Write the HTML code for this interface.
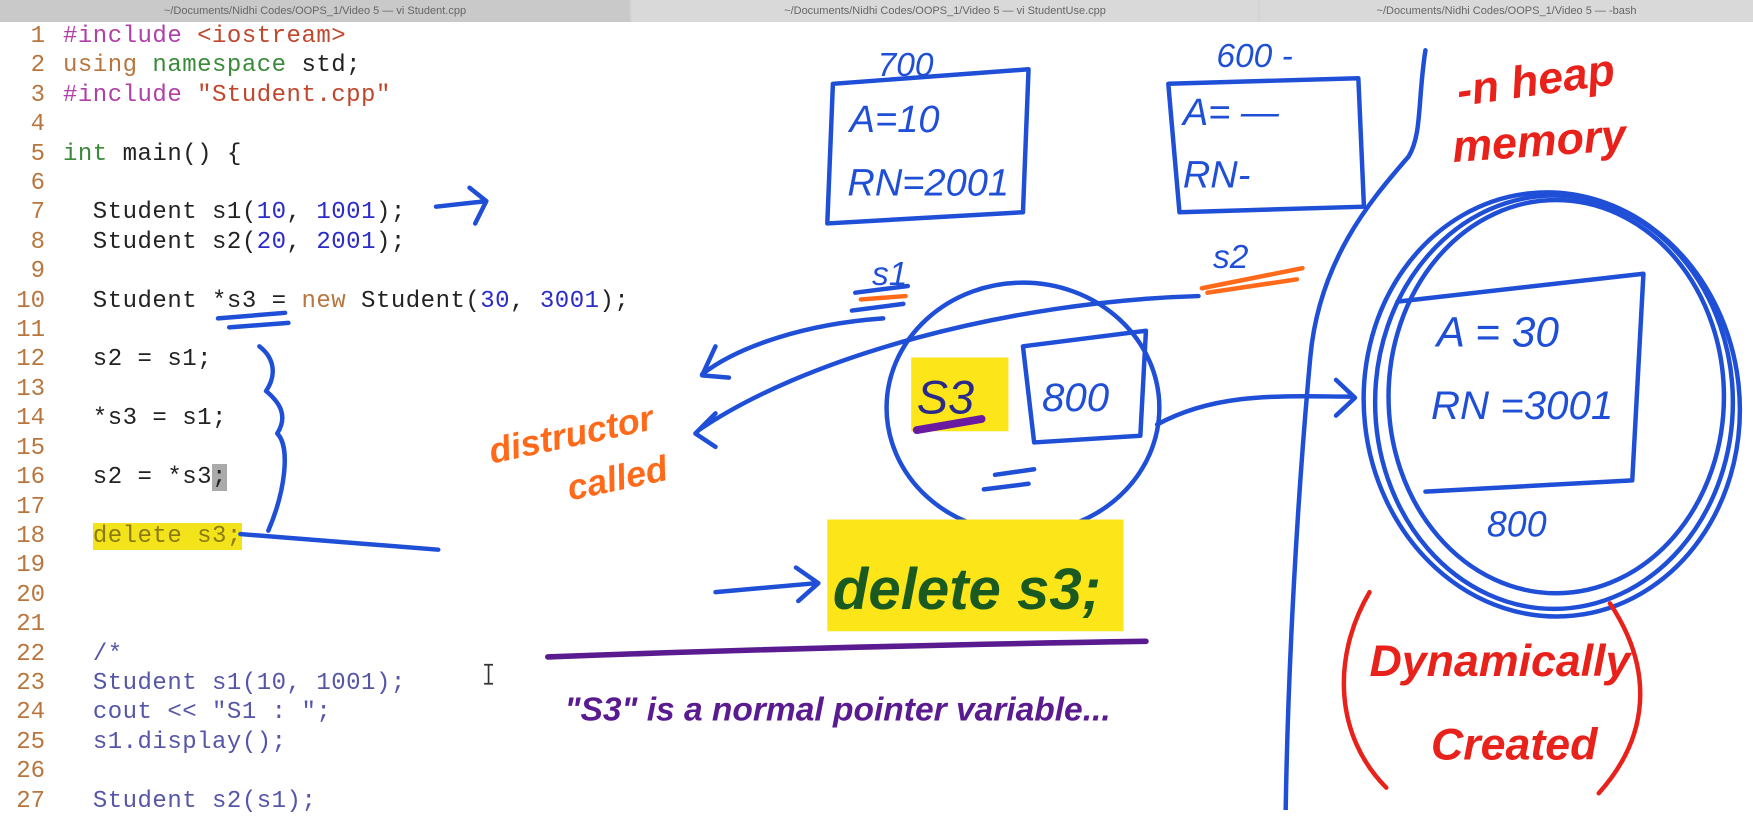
<!DOCTYPE html>
<html><head><meta charset="utf-8"><style>
html,body{margin:0;padding:0;width:1753px;height:810px;overflow:hidden;background:#fff}
#bar{position:absolute;left:0;top:0;width:1753px;height:22px;background:#d4d4d4;font:11px "Liberation Sans",sans-serif;color:#666}
#bar div{position:absolute;top:0;height:22px;line-height:22px;text-align:center}
#code{position:absolute;left:0;top:22px;font-family:"Liberation Mono",monospace;font-size:24px;letter-spacing:0.5px;line-height:29.4px;white-space:pre;color:#222}
#code .n{display:inline-block;width:45px;text-align:right;color:#b8763e;margin-right:18px;letter-spacing:0}
.pp{color:#b040a8}.st{color:#c0462c}.kw{color:#3a8a3a}.br{color:#b8763e}.num{color:#2b2bc8}.cm{color:#5556a8}
svg{position:absolute;left:0;top:0}
</style></head><body>
<div id="bar">
<div style="left:0;width:630px;background:#c9c9c9">~/Documents/Nidhi Codes/OOPS_1/Video 5 — vi Student.cpp</div>
<div style="left:632px;width:626px;background:#d9d9d9">~/Documents/Nidhi Codes/OOPS_1/Video 5 — vi StudentUse.cpp</div>
<div style="left:1260px;width:493px;background:#d9d9d9">~/Documents/Nidhi Codes/OOPS_1/Video 5 — -bash</div>
</div>
<div id="code"><span class="n">1</span><span class="pp">#include</span> <span class="st">&lt;iostream&gt;</span>
<span class="n">2</span><span class="br">using</span> <span class="kw">namespace</span> std;
<span class="n">3</span><span class="pp">#include</span> <span class="st">"Student.cpp"</span>
<span class="n">4</span>
<span class="n">5</span><span class="kw">int</span> main() {
<span class="n">6</span>
<span class="n">7</span>  Student s1(<span class="num">10</span>, <span class="num">1001</span>);
<span class="n">8</span>  Student s2(<span class="num">20</span>, <span class="num">2001</span>);
<span class="n">9</span>
<span class="n">10</span>  Student *s3 = <span class="br">new</span> Student(<span class="num">30</span>, <span class="num">3001</span>);
<span class="n">11</span>
<span class="n">12</span>  s2 = s1;
<span class="n">13</span>
<span class="n">14</span>  *s3 = s1;
<span class="n">15</span>
<span class="n">16</span>  s2 = *s3<span style="background:#aaa">;</span>
<span class="n">17</span>
<span class="n">18</span>  <span style="background:#f3e31a;color:#8a7a10">delete s3;</span>
<span class="n">19</span>
<span class="n">20</span>
<span class="n">21</span>
<span class="n">22</span>  <span class="cm">/*</span>
<span class="n">23</span>  <span class="cm">Student s1(10, 1001);</span>
<span class="n">24</span>  <span class="cm">cout &lt;&lt; "S1 : ";</span>
<span class="n">25</span>  <span class="cm">s1.display();</span>
<span class="n">26</span>
<span class="n">27</span>  <span class="cm">Student s2(s1);</span>
</div>
<svg width="1753" height="810" viewBox="0 0 1568 725" preserveAspectRatio="none" font-family="Liberation Sans, sans-serif" font-style="italic">
<g fill="none" stroke="#1f4fd6" stroke-width="4" stroke-linecap="round" stroke-linejoin="round">
<path d="M390 185 L435 180 M420 168 L435 180 L425 200"/>
<path d="M745 75 L920 62 L915 190 L740 200 Z"/>
<path d="M1045 75 L1215 70 L1220 185 L1055 190 Z"/>
<path d="M765 262 L812 256 M762 278 L808 272"/>
<path d="M1072 265 C900 270 720 320 625 385 M640 370 L622 388 L640 400"/>
<path d="M790 285 C720 290 660 310 628 335 M640 310 L628 336 L652 338"/>
<path d="M1275 45 C1268 90 1272 120 1260 140 C1230 175 1180 230 1172 320 C1160 450 1152 600 1150 725"/>
<ellipse cx="1390" cy="360" rx="160" ry="185"/>
<ellipse cx="1392" cy="355" rx="150" ry="176"/>
<ellipse cx="1388" cy="362" rx="168" ry="190" transform="rotate(-6 1388 362)"/>
<path d="M1250 270 L1470 245 L1460 430 L1275 440"/>
<ellipse cx="915" cy="365" rx="122" ry="112"/>
<path d="M915 310 L1025 296 L1020 390 L925 396 Z"/>
<path d="M890 425 L925 420 M880 438 L920 433"/>
<path d="M1035 380 C1090 350 1150 355 1210 355 M1195 340 L1212 356 L1195 372"/>
<path d="M640 530 L730 522 M712 508 L732 522 L714 538"/>
<path d="M215 478 L392 492"/>
<path d="M232 310 C245 320 248 335 238 350 C250 360 258 372 248 388 C260 400 255 440 240 475"/>
<path d="M195 285 L255 280 M205 293 L258 289"/>
</g>
<g fill="none" stroke="#ff6a1a" stroke-width="4" stroke-linecap="round">
<path d="M770 268 L810 265 M1075 258 L1165 240 M1080 262 L1160 250"/>
</g>
<rect x="815" y="320" width="87" height="66" fill="#fce61a"/>
<rect x="740" y="465" width="265" height="100" fill="#fce61a"/>
<path d="M820 385 L878 375" stroke="#6a1aa0" stroke-width="7" stroke-linecap="round"/>
<path d="M490 588 C700 580 900 576 1025 574" stroke="#5a1a90" stroke-width="5" fill="none" stroke-linecap="round"/>
<g fill="#1f4fd6" font-size="34">
<text x="785" y="68" font-size="30">700</text>
<text x="760" y="118">A=10</text>
<text x="758" y="175">RN=2001</text>
<text x="1088" y="60" font-size="30">600 -</text>
<text x="1058" y="112">A= —</text>
<text x="1058" y="168">RN-</text>
<text x="780" y="255" font-size="30">s1</text>
<text x="1085" y="240" font-size="30">s2</text>
<text x="1285" y="310" font-size="38">A = 30</text>
<text x="1280" y="375" font-size="36">RN =3001</text>
<text x="1330" y="480" font-size="32">800</text>
<text x="932" y="368" font-size="36">800</text>
</g>
<text x="820" y="370" font-size="42" fill="#2a2a8a">S3</text>
<text x="745" y="545" font-size="52" fill="#1a5a20" font-weight="bold">delete s3;</text>
<text x="505" y="645" font-size="30" fill="#5a1a90" font-weight="bold">"S3" is a normal pointer variable...</text>
<g fill="#ff6a1a" font-size="32" font-weight="bold">
<text x="440" y="415" transform="rotate(-12 440 415)">distructor</text>
<text x="510" y="448" transform="rotate(-12 510 448)">called</text>
</g>
<g fill="#e8221a" font-weight="bold">
<text x="1305" y="95" font-size="40" transform="rotate(-8 1305 95)">-n heap</text>
<text x="1300" y="145" font-size="40" transform="rotate(-4 1300 145)">memory</text>
<text x="1225" y="605" font-size="40">Dynamically</text>
<text x="1280" y="680" font-size="40">Created</text>
</g>
<g fill="none" stroke="#e8221a" stroke-width="4" stroke-linecap="round">
<path d="M1225 530 C1190 590 1195 660 1240 705"/>
<path d="M1440 540 C1480 600 1475 660 1430 710"/>
</g>
<g stroke="#333" stroke-width="1.5"><path d="M437 595 L437 612 M433 595 L441 595 M433 612 L441 612"/></g>
</svg>
</body></html>
